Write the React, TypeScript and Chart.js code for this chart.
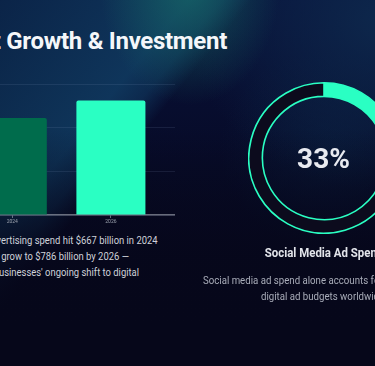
import React, { useEffect, useRef } from "react";
import { Chart, registerables } from "chart.js";

Chart.register(...registerables);

// ---- data ----
const years = ["2024", "2026"];
const adSpendBillions = [667, 786];
const barColors = ["#006c4c", "#2affc3"];
const yMax = 900;
const yStep = 300;

const shareLabels = ["Social media", "Other digital"];
const shareValues = [33, 67];
const shareColors = ["#2affc3", "#0c0b1d"];

const FONT = "Roboto, 'Noto Sans', sans-serif";

function BarChart() {
  const ref = useRef<HTMLCanvasElement | null>(null);
  useEffect(() => {
    if (!ref.current) return;
    const chart = new Chart(ref.current, {
      type: "bar",
      data: {
        datasets: [
          {
            label: "Digital ad spend ($B)",
            data: adSpendBillions.map((v, i) => ({ x: i, y: v })),
            backgroundColor: barColors,
            borderRadius: 2,
            borderSkipped: "bottom",
            barPercentage: 0.7,
            categoryPercentage: 1,
          },
        ],
      },
      options: {
        animation: false,
        responsive: false,
        maintainAspectRatio: false,
        layout: { padding: { top: 4, left: 0, right: 0, bottom: 0 } },
        plugins: { legend: { display: false }, tooltip: { enabled: false } },
        scales: {
          x: {
            type: "linear",
            offset: false,
            min: -0.5,
            max: 1.65,
            afterBuildTicks: (axis: any) => {
              axis.ticks = years.map((_, i) => ({ value: i }));
            },
            ticks: {
              callback: (v: any) => years[v as number] ?? "",
              color: "#9aa0ac",
              font: { size: 5, family: FONT },
              padding: 1,
              maxRotation: 0,
              autoSkip: false,
            },
            grid: {
              offset: false,
              drawOnChartArea: false,
              drawTicks: true,
              tickLength: 3,
              color: "rgba(200,205,215,0.5)",
            },
            border: { display: true, color: "rgba(170,175,185,0.6)", width: 1.5 },
          },
          y: {
            min: 0,
            max: yMax,
            ticks: { display: false, stepSize: yStep },
            grid: { color: "rgba(140,160,200,0.13)", drawTicks: false, lineWidth: 1 },
            border: { display: false },
          },
        },
      },
    });
    return () => chart.destroy();
  }, []);
  return (
    <canvas
      ref={ref}
      width={212}
      height={146}
      style={{ position: "absolute", left: -37, top: 80, width: 212, height: 146 }}
    />
  );
}

function Donut() {
  const ref = useRef<HTMLCanvasElement | null>(null);
  useEffect(() => {
    if (!ref.current) return;
    const chart = new Chart(ref.current, {
      type: "doughnut",
      data: {
        labels: shareLabels,
        datasets: [
          {
            data: shareValues,
            backgroundColor: shareColors,
            borderColor: "#2affc3",
            borderWidth: 1.6,
          },
        ],
      },
      options: {
        animation: false,
        responsive: false,
        maintainAspectRatio: false,
        cutout: "82%",
        plugins: { legend: { display: false }, tooltip: { enabled: false } },
      },
    });
    return () => chart.destroy();
  }, []);
  return (
    <canvas
      ref={ref}
      width={152}
      height={152}
      style={{ position: "absolute", left: 247.5, top: 82.3, width: 152, height: 152 }}
    />
  );
}

export default function App() {
  const txt: React.CSSProperties = {
    position: "absolute",
    whiteSpace: "nowrap",
    fontFamily: FONT,
  };
  const leftPara: React.CSSProperties = {
    ...txt,
    fontSize: 11.5,
    color: "#cfd2da",
    lineHeight: "16px",
    transform: "scaleX(0.82)",
    transformOrigin: "right center",
  };
  const rightPara: React.CSSProperties = {
    ...txt,
    fontSize: 11.5,
    color: "#a9adb9",
    lineHeight: "16px",
    transform: "scaleX(0.84)",
    transformOrigin: "left center",
  };
  return (
    <div
      style={{
        position: "fixed",
        left: 0,
        top: 0,
        width: 375,
        height: 366,
        overflow: "hidden",
        background:
          "linear-gradient(180deg, rgba(6,7,26,0) 0%, rgba(6,7,26,0) 35%, rgba(6,7,26,0.85) 70%, rgba(6,7,26,1) 90%)," +
          "radial-gradient(ellipse 90px 120px at 190px -15px, rgba(24,115,105,0.65), rgba(24,115,105,0) 100%)," +
          "linear-gradient(129deg, rgba(12,44,78,0.7) 0%, rgba(16,60,98,0.85) 28%, rgba(16,60,98,0.6) 33%, rgba(16,60,98,0) 37.5%)," +
          "radial-gradient(ellipse 200px 170px at 385px 20px, rgba(14,42,78,0.9), rgba(14,42,78,0) 100%)," +
          "radial-gradient(ellipse 110px 100px at 330px 150px, rgba(10,34,66,0.55), rgba(10,34,66,0) 100%)," +
          "linear-gradient(180deg, #08113a 0%, #070b28 45%, #06061a 100%)",
      }}
    >
      <div
        style={{
          ...txt,
          right: 148,
          top: 26,
          fontSize: 24,
          fontWeight: 700,
          color: "#f5f7fa",
          letterSpacing: -0.3,
          lineHeight: "30px",
        }}
      >
        Digital Market Growth &amp; Investment
      </div>

      <BarChart />

      <div style={{ ...leftPara, right: 375 - 158, top: 232 }}>
        Digital advertising spend hit $667 billion in 2024
      </div>
      <div style={{ ...leftPara, right: 375 - 129, top: 248 }}>
        and is expected to grow to $786 billion by 2026 —
      </div>
      <div style={{ ...leftPara, right: 375 - 139, top: 264 }}>
        reflecting businesses' ongoing shift to digital
      </div>

      <Donut />
      <div
        style={{
          ...txt,
          left: 323.5,
          top: 158,
          transform: "translate(-50%, -50%)",
          fontSize: 28,
          fontWeight: 700,
          color: "#e8eaf0",
        }}
      >
        33%
      </div>

      <div
        style={{
          ...txt,
          left: 323.5,
          top: 245,
          transform: "translateX(-50%) scaleX(0.88)",
          fontSize: 13,
          fontWeight: 700,
          color: "#e2e4ea",
          lineHeight: "16px",
        }}
      >
        Social Media Ad Spend
      </div>
      <div style={{ ...rightPara, left: 203, top: 272 }}>
        Social media ad spend alone accounts for a third of all
      </div>
      <div style={{ ...rightPara, left: 261, top: 288 }}>
        digital ad budgets worldwide.
      </div>
    </div>
  );
}
